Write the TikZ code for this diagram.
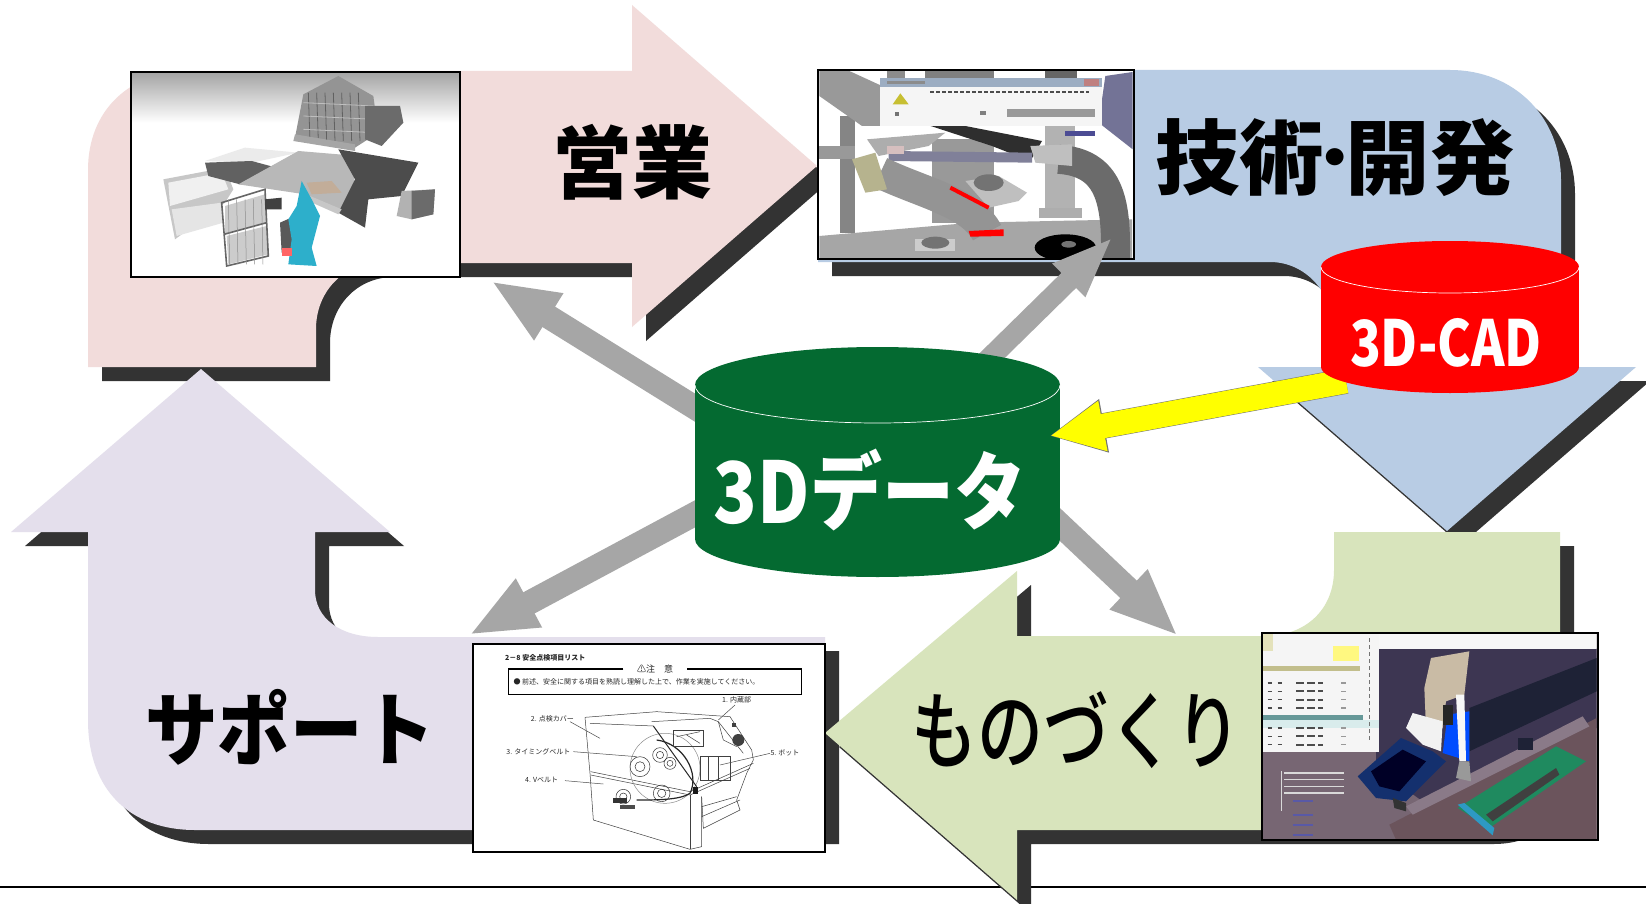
\documentclass[tikz,border=0pt]{standalone}
\usepackage{fontspec}
\newfontfamily\jp{Noto Sans CJK JP}
\newfontfamily\jpm{Noto Sans CJK JP Medium}
\usetikzlibrary{arrows.meta}
\definecolor{pinkc}{HTML}{F2DCDB}
\definecolor{bluec}{HTML}{B8CCE4}
\definecolor{greenc}{HTML}{D8E4BC}
\definecolor{purplec}{HTML}{E4DFEC}
\definecolor{shadowc}{HTML}{333333}
\definecolor{arrowc}{HTML}{A6A6A6}
\definecolor{dbc}{HTML}{046A31}
\definecolor{pureyellow}{HTML}{FFFF00}
\definecolor{purered}{HTML}{FF0000}
\def\pinkpath{(88,367) -- (88,170) .. controls (88,110) and (130,71) .. (190,71) -- (632,71) -- (632,5) -- (817,166) -- (632,327) -- (632,263) -- (380,263) .. controls (343,263) and (316,292) .. (316,329) -- (316,367) -- cycle}
\def\bluepath{(818,70) -- (1450,70) .. controls (1515,70) and (1561,118) .. (1561,180) -- (1561,367) -- (1636,367) -- (1447,531) -- (1258,367) -- (1333,367) -- (1333,330) .. controls (1333,292) and (1305,262) .. (1270,262) -- (818,262) -- cycle}
\def\greenpath{(1334,532) -- (1560,532) -- (1560,760) .. controls (1560,800) and (1525,830) .. (1480,830) -- (1017,830) -- (1017,900) -- (825,733) -- (1017,571) -- (1017,636) -- (1265,636) .. controls (1305,636) and (1334,610) .. (1334,570) -- cycle}
\def\purplepath{(201,369) -- (390,532) -- (315,532) -- (315,590) .. controls (315,618) and (340,637) .. (378,637) -- (825,637) -- (825,830) -- (195,830) .. controls (130,830) and (88,790) .. (88,720) -- (88,532) -- (11,532) -- cycle}
\tikzset{
  zoomed/.style 2 args={shift={(#1,#2)},x=.33333pt,y=-.33333pt},
  shadowshape/.style={fill=shadowc,shift={(14,14)}},
  photo/.style={fill=white,inner sep=0pt,outer sep=0pt},
  frame/.style={draw=black,line width=2pt},
  grayarrow/.style={draw=arrowc,line width=24pt,-{Triangle[length=68pt,width=50pt,fill=arrowc,color=arrowc]}},
  grayarrowthin/.style={draw=arrowc,line width=21pt,-{Triangle[length=62pt,width=42pt,fill=arrowc,color=arrowc]}},
  label/.style={inner sep=0pt,outer sep=0pt,text=#1},
  cylline/.style={draw=white,line width=.7pt},
  tiny/.style={inner sep=0pt,font=\jp\fontsize{7}{8}\selectfont,text=black!85},
  leader/.style={draw=black!70,line width=.5pt},
  mech/.style={draw=black!75,line width=.5pt},
}
\begin{document}
\begin{tikzpicture}[x=1pt,y=-1pt]
\useasboundingbox (0,0) rectangle (1646,904);
\clip (0,0) rectangle (1646,904);
\fill[white] (0,0) rectangle (1646,904);
\draw[black,line width=1.3pt] (0,887) -- (1646,887);

% big arrows
\path[shadowshape] \pinkpath;
\fill[pinkc] \pinkpath;
\path[shadowshape] \purplepath;
\fill[purplec] \purplepath;
\path[shadowshape] \bluepath;
\fill[bluec] \bluepath;
\path[shadowshape] \greenpath;
\fill[greenc] \greenpath;

% labels on arrows
\node[label=black] (lsales) at (632,162) {\resizebox*{160pt}{76pt}{\jp\bfseries 営業}};
\node[label=black] (ltech) at (1335,158) {\resizebox*{359pt}{78pt}{\jp\bfseries 技術\kern-.25em\raisebox{.1em}{\scalebox{.75}{・}}\kern-.25em開発}};
\node[label=black] (lsupport) at (290,727) {\resizebox*{290pt}{76pt}{\jp\bfseries サポート}};
\node[label=black] (lmake) at (1076,730) {\resizebox*{330pt}{77pt}{\jpm ものづくり}};

% picture 1
\node[photo,minimum width=329pt,minimum height=205pt] (img1) at (295.5,174.5) {};
\begin{scope}[zoomed={125}{66}]
\clip (20,18) rectangle (1005,632);
\shade[top color=black!36,bottom color=white] (20,18) rectangle (1005,170);
\fill[black!22] (115,340) -- (300,305) -- (325,370) -- (300,410) -- (150,520) -- cycle;
\fill[black!6] (130,350) -- (290,320) -- (310,370) -- (135,420) -- cycle;
\fill[black!10] (140,430) -- (290,410) -- (295,470) -- (155,510) -- cycle;
\fill[black!8] (240,285) -- (360,245) -- (520,260) -- (380,290) -- cycle;
\fill[black!62] (240,290) -- (380,285) -- (510,320) -- (345,355) -- (250,330) -- cycle;
\fill[black!28] (340,355) -- (520,255) -- (700,270) -- (670,440) -- (540,385) -- cycle;
\fill[black!42] (535,85) -- (640,30) -- (745,90) -- (760,200) -- (690,245) -- (510,215) -- cycle;
\foreach \a in {550,575,600,625,650,675,700} \draw[black!62,line width=.8pt] (\a,80) -- (\a+5,225);
\foreach \b in {110,150,190} \draw[black!25,line width=.8pt] (535,\b) -- (750,\b+10);
\fill[black!58] (720,120) -- (825,120) -- (835,170) -- (770,240) -- (720,220) -- cycle;
\fill[black!70] (640,250) -- (880,290) -- (830,390) -- (730,400) -- (720,485) -- (640,440) -- (690,340) -- cycle;
\fill[black!35] (510,205) -- (690,235) -- (690,255) -- (505,225) -- cycle;
\fill[orange!40!black!40] (545,350) -- (620,345) -- (650,380) -- (560,385) -- cycle;
\fill[black!30] (830,375) -- (930,370) -- (925,445) -- (860,460) -- (815,450) -- cycle;
\fill[black!58] (860,375) -- (930,370) -- (925,445) -- (860,460) -- cycle;
\fill[black!22] (555,390) -- (650,430) -- (640,445) -- (550,405) -- cycle;
\fill[black!20] (300,420) -- (420,385) -- (425,470) -- (300,505) -- cycle;
\fill[black!20] (305,510) -- (425,480) -- (430,565) -- (310,595) -- cycle;
\draw[black!60,line width=1.6pt] (290,410) -- (420,370) -- (430,570) -- (305,600) -- cycle (297,505) -- (425,470);
\foreach \a in {310,335,360,385,410} \draw[black!45,line width=.5pt] (\a,400) -- (\a+4,595);
\fill[black!75] (420,400) -- (470,395) -- (470,430) -- (420,430) -- cycle;
\fill[black!65] (465,470) -- (510,450) -- (510,560) -- (470,560) -- cycle;
\definecolor{personc}{HTML}{2DAFCB}
\fill[personc] (530,345) -- (560,400) -- (585,450) -- (560,545) -- (575,600) -- (490,595) -- (500,520) -- (490,460) -- (515,420) -- cycle;
\fill[red!60] (470,545) -- (500,545) -- (500,570) -- (470,570) -- cycle;
\end{scope}
\draw[frame] (img1.north west) rectangle (img1.south east);

% picture 2
\node[photo,minimum width=316pt,minimum height=189pt] (img2) at (976,164.5) {};
\begin{scope}[zoomed={812}{66}]
\clip (18,14) rectangle (965,578);
\fill[black!50] (340,14) rectangle (545,36);
\fill[black!60] (700,14) rectangle (795,36);
\fill[black!45] (225,14) rectangle (280,36);
\fill[black!48] (85,150) rectangle (130,500);
\fill[black!40] (360,220) rectangle (545,470);
\fill[black!30] (700,180) rectangle (790,440);
\fill[black!32] (680,425) rectangle (810,455);
\fill[black!35] (22,510) -- (480,470) -- (960,460) -- (960,578) -- (22,578) -- cycle;
\fill[black!40] (22,14) -- (110,14) -- (210,60) -- (210,180) -- (150,180) -- (22,90) -- cycle;
\fill[black!40] (20,240) rectangle (130,280);
\draw[black!58,line width=29pt] (910,578) .. controls (915,400) and (890,290) .. (740,280);
\fill[blue!25!black!55] (880,30) -- (962,18) -- (962,250) -- (860,170) -- cycle;
\fill[black!82] (350,178) -- (450,178) -- (690,225) -- (655,285) -- (540,240) -- cycle;
\fill[black!25] (655,240) -- (780,235) -- (780,300) -- (670,290) -- cycle;
\fill[blue!20!black!50] (230,255) -- (660,260) -- (660,290) -- (230,285) -- cycle;
\fill[black!32] (165,220) -- (400,200) -- (350,240) -- (200,270) -- cycle;
\fill[red!35!black!25] (225,240) rectangle (275,265);
\draw[black!42,line width=32pt] (205,320) .. controls (330,380) and (480,410) .. (525,500);
\fill[yellow!40!black!55] (120,280) -- (190,260) -- (225,370) -- (160,380) -- cycle;
\fill[black!25] (460,345) -- (560,330) -- (645,380) -- (620,405) -- (530,425) -- cycle;
\fill[black!55] (530,350) ellipse[x radius=45,y radius=25];
\fill[purered] (470,495) -- (575,490) -- (575,510) -- (475,512) -- cycle;
\draw[purered,line width=4pt] (415,365) -- (530,425);
\fill[black!20] (310,520) rectangle (430,555);
\fill[black!55] (370,530) ellipse[x radius=42,y radius=18];
\fill[black] (760,545) ellipse[x radius=92,y radius=40];
\fill[black!55] (770,535) ellipse[x radius=22,y radius=10];
\fill[black!4] (205,35) rectangle (870,180);
\fill[bluec!85!black] (205,35) rectangle (870,62);
\fill[black!45] (225,45) rectangle (340,55);
\fill[red!50!black!50] (815,40) rectangle (860,60);
\fill[yellow!75!black] (265,82) -- (290,115) -- (242,115) -- cycle;
\draw[black!70,line width=2pt,dash pattern=on 4pt off 2pt] (355,78) -- (830,78);
\fill[black!40] (585,130) rectangle (850,152);
\fill[black!55] (250,138) rectangle (262,150);
\fill[black!50] (505,135) rectangle (522,148);
\fill[blue!40!black!70] (760,195) rectangle (850,210);
\end{scope}
\draw[frame] (img2.north west) rectangle (img2.south east);

% picture 3 (manual page)
\node[photo,minimum width=352pt,minimum height=208pt] (img4) at (649,748) {};
\begin{scope}[zoomed={470}{640}]
\node[tiny,anchor=west] (p3title) at (105,55) {\bfseries 2－8 安全点検項目リスト};
\draw[black,line width=1.2pt] (460,87) -- (115,87) -- (115,163) -- (995,163) -- (995,87) -- (650,87);
\node[tiny,anchor=center] (p3note) at (555,88) {\fontsize{9}{10}\selectfont ⚠注\hspace{1em}意};
\node[tiny,anchor=west] (p3text) at (130,126) {● 前述、安全に関する項目を熟読し理解した上で、作業を実施してください。};
\node[tiny,anchor=center] (p3a) at (800,180) {1. 内蔵部};
\node[tiny,anchor=center] (p3b) at (247,236) {2. 点検カバー};
\node[tiny,anchor=center] (p3c) at (205,334) {3. タイミングベルト};
\node[tiny,anchor=center] (p3d) at (215,420) {4. Vベルト};
\node[tiny,anchor=center] (p3e) at (945,338) {5. ボット};
\draw[mech] (345,232) -- (560,215) -- (780,230) -- (845,330) -- (850,360) -- (830,400) -- (800,480) -- (810,510) -- (700,565) -- (695,470);
\draw[mech] (345,232) -- (360,400) -- (370,540) -- (660,628) -- (695,620) -- (695,470);
\draw[mech] (360,250) -- (550,258);
\draw[mech] (362,395) -- (660,455) -- (850,370);
\draw[mech] (362,405) -- (660,465) -- (840,385);
\draw[mech] (660,465) -- (660,628);
\draw[black!45,line width=.5pt] (585,385) circle (105);
\draw[black!85,line width=1pt] (550,258) -- (680,440);
\draw[black!85,line width=1.2pt] (560,300) .. controls (640,310) and (690,400) .. (660,460) .. controls (630,480) and (560,480) .. (500,480);
\draw[mech] (545,245) -- (720,235) -- (745,245) -- (820,340);
\draw[mech] (745,245) -- (760,300) -- (800,320);
\fill[black!75] (785,250) rectangle (797,262);
\fill[black!75] (805,300) circle (18);
\draw[mech] (610,270) rectangle (700,320);
\draw[mech] (650,285) -- (690,310) (620,290) -- (690,275);
\draw[mech] (690,350) rectangle (780,420);
\draw[mech] (715,350) -- (715,420) (745,350) -- (745,420);
\foreach \px/\py/\pr in {510/380/30,570/345/22,575/460/25,460/470/22,600/370/18}{
  \draw[black!80,line width=.5pt] (\px,\py) circle (\pr);
  \draw[black!80,line width=.5pt] (\px,\py) circle (\pr/2);
}
\fill[black!80] (430,475) rectangle (470,490);
\fill[black!70] (450,495) rectangle (495,508);
\fill[black!90] (670,440) rectangle (685,462);
\draw[mech] (695,500) -- (800,470);
\draw[mech] (695,530) -- (810,480);
\draw[leader] (300,245) -- (390,295);
\draw[leader] (310,335) -- (500,350);
\draw[leader] (285,422) -- (400,432);
\draw[leader] (795,195) -- (745,240);
\draw[leader] (900,340) -- (750,375);
\end{scope}
\draw[frame] (img4.north west) rectangle (img4.south east);

% picture 4
\node[photo,minimum width=336pt,minimum height=207pt] (img3) at (1429.5,736) {};
\begin{scope}[zoomed={1256}{628}]
\definecolor{iA}{HTML}{776673}
\definecolor{iB}{HTML}{3D3652}
\definecolor{iC}{HTML}{6B545C}
\definecolor{iD}{HTML}{1E2236}
\definecolor{iE}{HTML}{8A7A88}
\definecolor{iF}{HTML}{14306E}
\definecolor{iG}{HTML}{1F8A5F}
\definecolor{iH}{HTML}{C9BBA5}
\clip (18,15) rectangle (1022,635);
\fill[iA] (18,15) rectangle (1022,635);
\fill[iB] (360,60) -- (1022,60) -- (1022,300) -- (500,520) -- (360,420) -- cycle;
\fill[iC] (400,590) -- (1022,270) -- (1022,635) -- (420,635) -- cycle;
\fill[iD] (640,240) -- (1022,90) -- (1022,190) -- (640,370) -- cycle;
\fill[iE] (450,535) -- (980,265) -- (1000,295) -- (470,560) -- cycle;
\fill[black!3] (18,15) rectangle (1022,62);
\fill[black!4] (18,15) rectangle (368,372);
\fill[yellow!60!black!30] (18,15) rectangle (50,70);
\fill[yellow!50!black!55] (18,115) rectangle (312,128);
\fill[yellow!50!white] (230,55) rectangle (310,100);
\fill[teal!65!black!60] (18,260) rectangle (322,276);
\fill[teal!15] (18,276) rectangle (368,300);
\foreach \ry in {165,190,215,240,300,325,350}{
  \draw[black!70,line width=1.5pt,dash pattern=on 4pt off 6pt] (35,\ry) -- (80,\ry);
  \draw[black!70,line width=2pt,dash pattern=on 8pt off 3pt] (120,\ry) -- (200,\ry);
  \draw[black!40,line width=1.5pt] (255,\ry) -- (270,\ry);
}
\draw[black!55,line width=1pt,dash pattern=on 4pt off 3pt] (340,30) -- (340,340);
\foreach \ry in {435,455,475,495}{\draw[black!15,line width=1.5pt] (85,\ry) -- (265,\ry);}
\draw[black!15,line width=1pt] (75,430) -- (75,550);
\foreach \ry in {520,560,590,620}{\draw[blue!30!gray,line width=2pt] (110,\ry) -- (170,\ry);}
\fill[iF] (305,445) -- (435,330) -- (530,370) -- (570,400) -- (450,520) -- (360,510) -- cycle;
\fill[black!85!blue] (345,430) -- (440,365) -- (510,400) -- (430,490) -- (370,475) -- cycle;
\fill[iD] (640,260) -- (720,230) -- (640,340) -- cycle;
\fill[blue!70!cyan] (575,260) -- (640,250) -- (640,400) -- (560,375) -- cycle;
\fill[iH] (525,90) -- (640,70) -- (625,200) -- (570,220) -- (560,300) -- (510,300) -- (505,180) -- cycle;
\fill[black!5] (450,300) -- (470,255) -- (560,280) -- (555,370) -- (500,350) -- cycle;
\fill[black!85] (560,230) rectangle (590,290);
\fill[black!3] (600,200) -- (625,200) -- (630,400) -- (610,400) -- cycle;
\fill[black!40] (610,400) -- (640,400) -- (645,460) -- (600,450) -- cycle;
\fill[iG] (605,540) -- (900,355) -- (990,400) -- (700,600) -- cycle;
\fill[black!75] (690,560) -- (900,420) -- (910,440) -- (710,580) -- cycle;
\fill[cyan!55!teal] (605,530) -- (625,525) -- (715,600) -- (710,622) -- cycle;
\fill[iD] (785,330) rectangle (830,365);
\fill[black!80] (410,510) -- (450,525) -- (450,550) -- (415,540) -- cycle;
\end{scope}
\draw[frame] (img3.north west) rectangle (img3.south east);

% connectors and cylinders
\coordinate (dbSales) at (760,448);
\coordinate (dbTech) at (950,397);
\coordinate (dbSupport) at (760,479);
\coordinate (dbMake) at (1000,468);
\coordinate (salesIn) at (491,281);
\coordinate (techIn) at (1113,237);
\coordinate (supportIn) at (469,635);
\coordinate (makeIn) at (1178,636);
\coordinate (cadOut) at (1346,381);
\coordinate (dbIn) at (1049,436);
\draw[grayarrow] (dbSales) -- (salesIn);
\draw[grayarrowthin] (dbTech) -- (techIn);
\draw[grayarrow] (dbSupport) -- (supportIn);
\draw[grayarrow] (dbMake) -- (makeIn);

\fill[dbc] (695,385) rectangle (1060,539);
\fill[dbc] (877.5,539) ellipse[x radius=182.5,y radius=38];
\fill[dbc] (877.5,385) ellipse[x radius=182.5,y radius=38];
\draw[cylline] (695,385) arc[start angle=180,end angle=0,x radius=182.5,y radius=38];
\node[label=white] (db) at (870,490) {\resizebox*{312pt}{82pt}{\jp\bfseries 3Dデータ}};

\draw[black!55,line width=25.5pt,-{Triangle[length=56pt,width=50pt,fill=black!55,color=black!55]}] (cadOut) -- (dbIn);
\draw[pureyellow,line width=24.5pt,shorten >=.8pt,-{Triangle[length=54pt,width=47pt,fill=pureyellow,color=pureyellow]}] (cadOut) -- (dbIn);

\fill[purered] (1321,267) rectangle (1579,367);
\fill[purered] (1450,367) ellipse[x radius=129,y radius=26];
\fill[purered] (1450,267) ellipse[x radius=129,y radius=26];
\draw[cylline] (1321,267) arc[start angle=180,end angle=0,x radius=129,y radius=26];
\node[label=white] (cad) at (1446,342.5) {\resizebox*{192pt}{49pt}{\jp\bfseries 3D-CAD}};
\end{tikzpicture}
\end{document}
